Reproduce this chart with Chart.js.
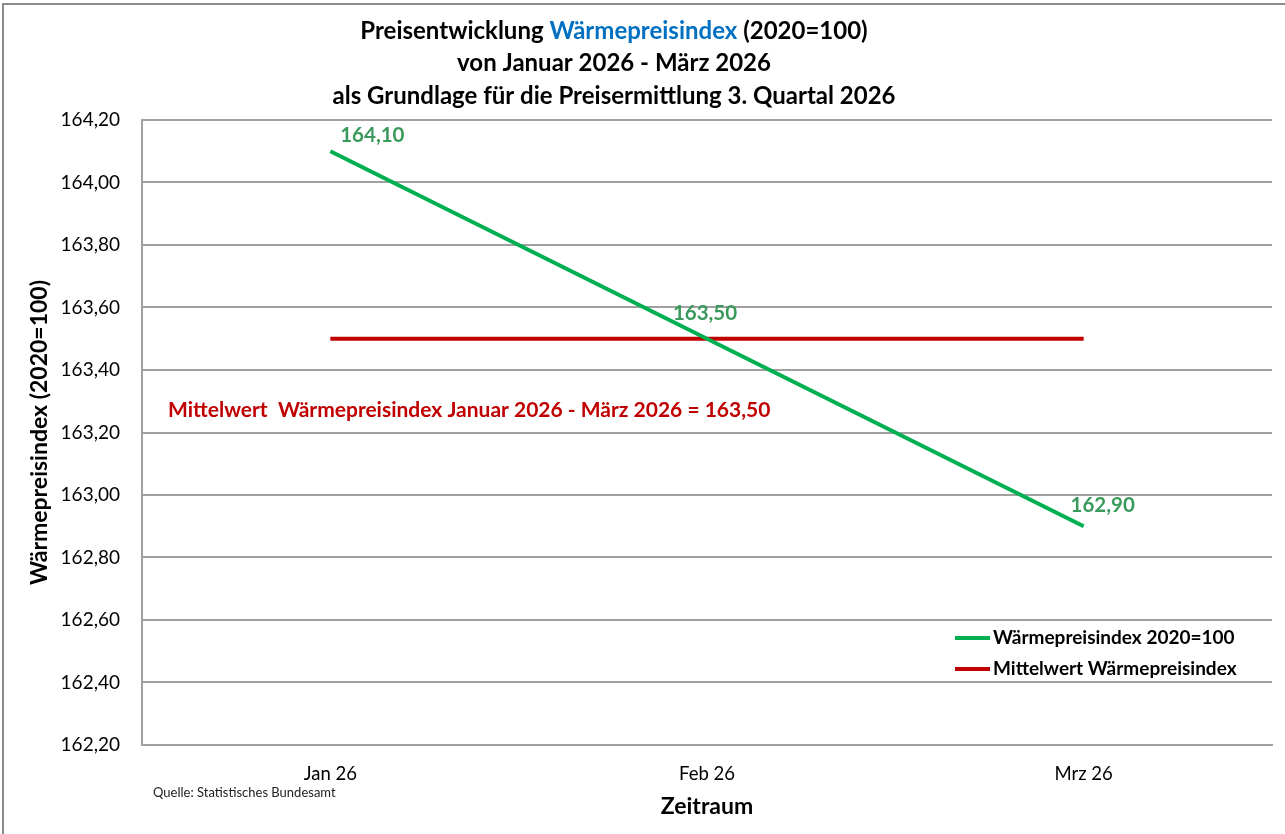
<!DOCTYPE html>
<html>
<head>
<meta charset="utf-8">
<script src="https://cdn.jsdelivr.net/npm/chart.js@4.4.1/dist/chart.umd.min.js"></script>
<style>
  html, body { margin: 0; padding: 0; background: #fff; }
  #wrap { width: 1285px; height: 834px; }
</style>
</head>
<body>
<div id="wrap"><canvas id="preisChart" width="1285" height="834"></canvas></div>
<script>
// Daten
const monate = ['Jan 26', 'Feb 26', 'Mrz 26']
const waermepreisindex = [164.10, 163.50, 162.90]
const mittelwert = [163.50, 163.50, 163.50]
const yMin = 162.20
const yMax = 164.20
const yStep = 0.20

const FONT = 'Lato, "Open Sans", sans-serif'
const GRUEN = '#00b050'
const GRUEN_TEXT = '#3a9a5c'
const ROT = '#c00000'
const BLAU = '#0070c0'

function deZahl(v) {
    return Number(v).toFixed(2).replace('.', ',')
}

const zeichnen = {
    id: 'zeichnen',
    beforeDraw(chart) {
        const ctx = chart.ctx
        ctx.save()
        ctx.fillStyle = '#fff'
        ctx.fillRect(0, 0, chart.width, chart.height)
        ctx.strokeStyle = '#8c8c8c'
        ctx.lineWidth = 2
        ctx.strokeRect(3, 4, chart.width + 10, chart.height + 10)
        ctx.restore()
    },
    afterDatasetsDraw(chart) {
        const ctx = chart.ctx
        const area = chart.chartArea
        const y = chart.scales.y
        ctx.save()

        // Titel
        const zeilen = [
            [['Preisentwicklung ', '#000'], ['Wärmepreisindex', BLAU], [' (2020=100)', '#000']],
            [['von Januar 2026 - März 2026', '#000']],
            [['als Grundlage für die Preisermittlung 3. Quartal 2026', '#000']]
        ]
        const zeilenY = [31, 63, 96]
        ctx.font = 'bold 24px ' + FONT
        ctx.textBaseline = 'middle'
        ctx.textAlign = 'left'
        zeilen.forEach(function(teile, i) {
            let breite = 0
            teile.forEach(t => breite += ctx.measureText(t[0]).width)
            let x = 614 - breite / 2
            teile.forEach(function(t) {
                ctx.fillStyle = t[1]
                ctx.fillText(t[0], x, zeilenY[i])
                x += ctx.measureText(t[0]).width
            })
        })

        // Datenbeschriftungen
        const versatz = [[42, -16], [-2, -25], [19, -21]]
        const meta = chart.getDatasetMeta(0)
        ctx.font = 'bold 20.5px ' + FONT
        ctx.fillStyle = GRUEN_TEXT
        ctx.textAlign = 'center'
        meta.data.forEach(function(p, i) {
            ctx.fillText(deZahl(waermepreisindex[i]), p.x + versatz[i][0], p.y + versatz[i][1])
        })

        // Mittelwert-Text
        ctx.font = 'bold 21px ' + FONT
        ctx.fillStyle = ROT
        ctx.textAlign = 'left'
        ctx.fillText('Mittelwert  Wärmepreisindex Januar 2026 - März 2026 = ' + deZahl(mittelwert[0]),
            area.left + 26, y.getPixelForValue(163.27))

        // Legende
        ctx.font = 'bold 19px ' + FONT
        ctx.fillStyle = '#000'
        chart.data.datasets.forEach(function(ds, i) {
            const ly = 638 + i * 31
            ctx.strokeStyle = ds.borderColor
            ctx.lineWidth = 4
            ctx.beginPath()
            ctx.moveTo(955, ly)
            ctx.lineTo(990, ly)
            ctx.stroke()
            ctx.fillText(ds.label, 993, ly)
        })

        // Quelle
        ctx.font = '13px ' + FONT
        ctx.fillStyle = '#222'
        ctx.fillText('Quelle: Statistisches Bundesamt', 153, 793)

        ctx.restore()
    }
}

const ctx = document.getElementById('preisChart')

new Chart(ctx, {
    type: 'line',
    data: {
        labels: monate,
        datasets: [{
            label: 'Wärmepreisindex 2020=100',
            data: waermepreisindex,
            borderColor: GRUEN,
            borderWidth: 4,
            pointRadius: 0,
            tension: 0
        }, {
            label: 'Mittelwert Wärmepreisindex',
            data: mittelwert,
            borderColor: ROT,
            borderWidth: 4,
            pointRadius: 0,
            tension: 0
        }]
    },
    options: {
        responsive: false,
        animation: false,
        devicePixelRatio: 1,
        layout: { padding: { top: 120, right: 13, left: 0, bottom: 0 } },
        plugins: {
            legend: { display: false },
            title: { display: false },
            tooltip: { enabled: false }
        },
        scales: {
            x: {
                offset: true,
                grid: { display: false, drawTicks: false },
                border: { color: '#a0a0a0', width: 2 },
                ticks: { color: '#000', font: { family: FONT, size: 18.5 }, padding: 18 },
                title: {
                    display: true, text: 'Zeitraum', color: '#000',
                    font: { family: FONT, size: 23, weight: 'bold' },
                    padding: { top: 0, bottom: 14 }
                },
                afterFit: function(scale) { scale.height = 89 }
            },
            y: {
                min: yMin,
                max: yMax,
                grid: { color: '#a0a0a0', lineWidth: 2, drawTicks: false },
                border: { color: '#a0a0a0', width: 2 },
                ticks: {
                    stepSize: yStep,
                    color: '#000',
                    font: { family: FONT, size: 19 },
                    padding: 22,
                    callback: function(v) { return deZahl(v) }
                },
                title: {
                    display: true, text: 'Wärmepreisindex (2020=100)', color: '#000',
                    font: { family: FONT, size: 23, weight: 'bold' },
                    padding: { top: 26, bottom: 0 }
                },
                afterFit: function(scale) { scale.width = 142 }
            }
        }
    },
    plugins: [zeichnen]
})
</script>
</body>
</html>
